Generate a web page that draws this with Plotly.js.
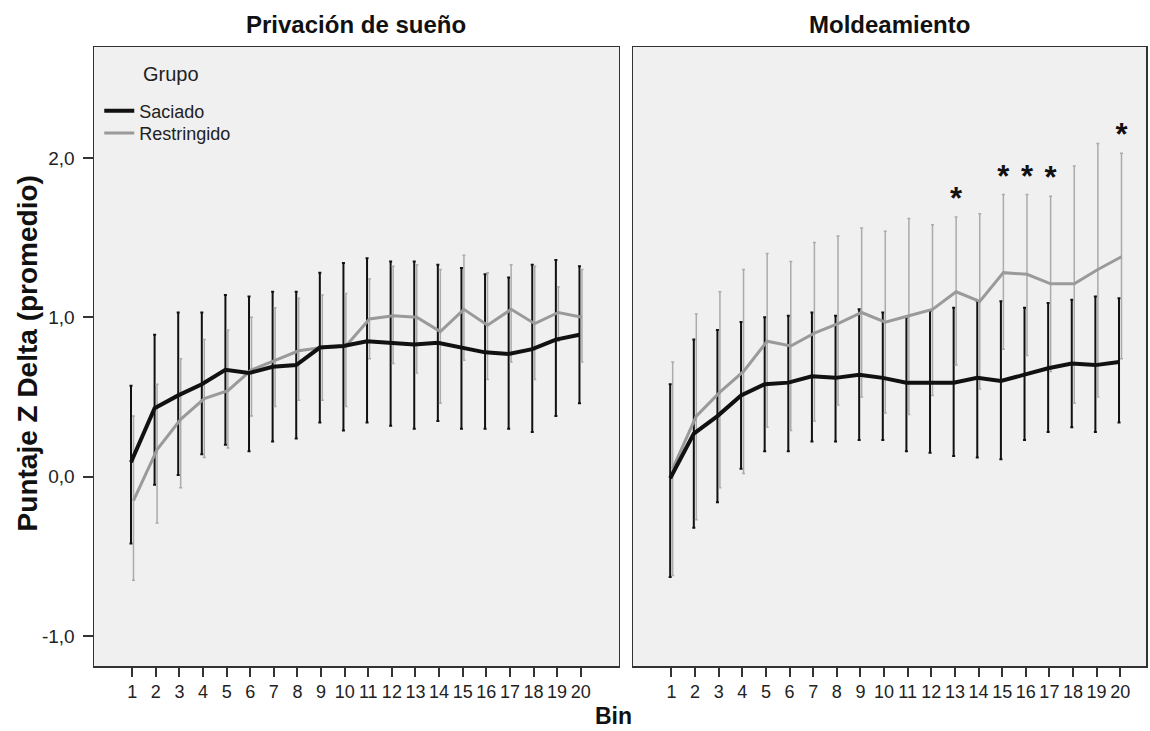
<!DOCTYPE html>
<html>
<head>
<meta charset="utf-8">
<script src="https://cdn.plot.ly/plotly-3.0.1.min.js"></script>
<style>
  html, body { margin: 0; padding: 0; background: #ffffff; }
  #chart { width: 1150px; height: 731px; }
</style>
</head>
<body>
<div id="chart"></div>
<script>
// Bins (x axis) and tick labels
const bins = [1, 2, 3, 4, 5, 6, 7, 8, 9, 10, 11, 12, 13, 14, 15, 16, 17, 18, 19, 20];
const yTickVals = [-1, 0, 1, 2];
const yTickText = ['-1,0', '0,0', '1,0', '2,0'];

// Panel titles and group names
const panelTitles = ['Privación de sueño', 'Moldeamiento'];
const groupNames = ['Saciado', 'Restringido'];

// Privación de sueño — Saciado: mean, upper and lower error-bar ends
const sacMeanL = [0.09, 0.43, 0.51, 0.58, 0.67, 0.65, 0.69, 0.70, 0.81, 0.82, 0.85, 0.84, 0.83, 0.84, 0.81, 0.78, 0.77, 0.80, 0.86, 0.89];
const sacHiL   = [0.57, 0.89, 1.03, 1.03, 1.14, 1.13, 1.16, 1.16, 1.28, 1.34, 1.37, 1.35, 1.35, 1.33, 1.31, 1.27, 1.25, 1.33, 1.36, 1.32];
const sacLoL   = [-0.42, -0.05, 0.01, 0.14, 0.20, 0.16, 0.22, 0.24, 0.34, 0.29, 0.34, 0.32, 0.30, 0.35, 0.30, 0.30, 0.30, 0.28, 0.38, 0.46];

// Privación de sueño — Restringido
const resMeanL = [-0.15, 0.17, 0.36, 0.49, 0.54, 0.67, 0.73, 0.79, 0.81, 0.82, 0.99, 1.01, 1.00, 0.91, 1.05, 0.95, 1.05, 0.96, 1.03, 1.00];
const resHiL   = [0.38, 0.58, 0.74, 0.86, 0.92, 1.00, 1.06, 1.12, 1.14, 1.15, 1.24, 1.32, 1.33, 1.30, 1.39, 1.28, 1.33, 1.32, 1.19, 1.30];
const resLoL   = [-0.65, -0.29, -0.07, 0.12, 0.18, 0.38, 0.44, 0.48, 0.48, 0.44, 0.74, 0.71, 0.65, 0.46, 0.73, 0.61, 0.72, 0.61, 0.85, 0.72];

// Moldeamiento — Saciado
const sacMeanR = [-0.01, 0.27, 0.38, 0.51, 0.58, 0.59, 0.63, 0.62, 0.64, 0.62, 0.59, 0.59, 0.59, 0.62, 0.60, 0.64, 0.68, 0.71, 0.70, 0.72];
const sacHiR   = [0.58, 0.86, 0.92, 0.97, 1.00, 1.01, 1.03, 1.01, 1.05, 1.03, 1.00, 1.04, 1.06, 1.10, 1.10, 1.06, 1.09, 1.11, 1.13, 1.12];
const sacLoR   = [-0.63, -0.32, -0.16, 0.05, 0.16, 0.16, 0.22, 0.22, 0.23, 0.23, 0.16, 0.15, 0.13, 0.12, 0.11, 0.23, 0.28, 0.31, 0.28, 0.34];

// Moldeamiento — Restringido
const resMeanR = [0.05, 0.38, 0.53, 0.66, 0.85, 0.82, 0.90, 0.96, 1.03, 0.97, 1.01, 1.05, 1.16, 1.10, 1.28, 1.27, 1.21, 1.21, 1.30, 1.38];
const resHiR   = [0.72, 1.02, 1.16, 1.30, 1.40, 1.35, 1.47, 1.51, 1.56, 1.54, 1.62, 1.58, 1.63, 1.65, 1.77, 1.77, 1.76, 1.95, 2.09, 2.03];
const resLoR   = [-0.62, -0.27, -0.07, 0.02, 0.31, 0.29, 0.35, 0.45, 0.50, 0.40, 0.39, 0.51, 0.70, 0.55, 0.80, 0.76, 0.66, 0.46, 0.50, 0.74];

// Bins with a significant group difference (Moldeamiento)
const sigBins = [13, 15, 16, 17, 20];

const FONT = 'Liberation Sans, Arial, sans-serif';
const BLACK = '#111111';
const GRAY_LINE = '#9a9a9a';
const GRAY_BAR = '#ababab';

const diff = (a, b) => a.map((v, i) => v - b[i]);

function errTrace(mean, hi, lo, color, thick, group, xa, ya) {
  return {
    type: 'scatter', mode: 'markers', x: bins, y: mean,
    xaxis: xa, yaxis: ya, offsetgroup: group,
    marker: { size: 1, opacity: 0 },
    error_y: {
      type: 'data', symmetric: false,
      array: diff(hi, mean), arrayminus: diff(mean, lo),
      color: color, thickness: thick, width: 1.5
    },
    showlegend: false, hoverinfo: 'skip'
  };
}

function lineTrace(mean, name, color, width, group, xa, ya, legend, legendId) {
  return {
    type: 'scatter', mode: 'lines', x: bins, y: mean,
    xaxis: xa, yaxis: ya, offsetgroup: group,
    name: name, legendgroup: name, legend: legendId,
    line: { color: color, width: width },
    showlegend: legend, hoverinfo: 'skip'
  };
}

// Upper ends of the Restringido error bars at the significant bins
const sigTop = sigBins.map(b => resHiR[bins.indexOf(b)]);

const data = [
  errTrace(sacMeanL, sacHiL, sacLoL, BLACK, 2, 'sac', 'x', 'y'),
  errTrace(resMeanL, resHiL, resLoL, GRAY_BAR, 1.5, 'res', 'x', 'y'),
  lineTrace(resMeanL, groupNames[1], GRAY_LINE, 3, 'res', 'x', 'y', true, 'legend2'),
  lineTrace(sacMeanL, groupNames[0], BLACK, 4, 'sac', 'x', 'y', true, 'legend'),

  errTrace(sacMeanR, sacHiR, sacLoR, BLACK, 2, 'sac', 'x2', 'y2'),
  errTrace(resMeanR, resHiR, resLoR, GRAY_BAR, 1.5, 'res', 'x2', 'y2'),
  lineTrace(resMeanR, groupNames[1], GRAY_LINE, 3, 'res', 'x2', 'y2', false, 'legend2'),
  lineTrace(sacMeanR, groupNames[0], BLACK, 4, 'sac', 'x2', 'y2', false, 'legend'),

  {
    type: 'scatter', mode: 'text', x: sigBins, y: sigTop,
    xaxis: 'x2', yaxis: 'y2', offsetgroup: 'res',
    text: sigBins.map(() => '*'), textposition: 'top center',
    textfont: { family: FONT, size: 31, color: BLACK, weight: 'bold' },
    showlegend: false, hoverinfo: 'skip'
  }
];

const xBase = {
  tickmode: 'array', tickvals: bins, ticktext: bins.map(String),
  ticks: 'outside', ticklen: 9, tickwidth: 2, tickcolor: '#333333',
  tickfont: { family: FONT, size: 18, color: '#222222' },
  showline: true, mirror: true, linecolor: '#333333', linewidth: 1.5,
  showgrid: false, zeroline: false, fixedrange: true
};

const yBase = {
  range: [-1.188, 2.696],
  showline: true, mirror: true, linecolor: '#333333', linewidth: 1.5,
  showgrid: false, zeroline: false, fixedrange: true
};

const legendBase = {
  x: 0.005, xanchor: 'left', yanchor: 'top',
  bgcolor: 'rgba(0,0,0,0)', borderwidth: 0,
  font: { family: FONT, size: 18, color: '#222222' },
  tracegroupgap: 0, itemwidth: 30
};

const layout = {
  width: 1150, height: 731,
  margin: { l: 94, r: 4, t: 47, b: 65, pad: 0 },
  paper_bgcolor: '#ffffff',
  plot_bgcolor: '#f0f0f0',
  scattermode: 'group',
  scattergap: 0.79,
  showlegend: true,
  legend: Object.assign({}, legendBase, { y: 0.9266 }),
  legend2: Object.assign({}, legendBase, { y: 0.8903 }),
  xaxis: Object.assign({}, xBase, { domain: [0, 0.499], range: [-0.62, 21.62], anchor: 'y' }),
  xaxis2: Object.assign({}, xBase, { domain: [0.5124, 1], range: [-0.625, 21.09], anchor: 'y2' }),
  yaxis: Object.assign({}, yBase, {
    anchor: 'x', tickmode: 'array', tickvals: yTickVals, ticktext: yTickText,
    ticks: 'outside', ticklen: 10, tickwidth: 2, tickcolor: '#333333',
    ticklabelstandoff: 4,
    tickfont: { family: FONT, size: 19, color: '#222222' }
  }),
  yaxis2: Object.assign({}, yBase, { anchor: 'x2', matches: 'y', showticklabels: false, ticks: '' }),
  annotations: [
    { text: panelTitles[0], xref: 'paper', yref: 'paper', x: 0.2495, y: 1.037,
      xanchor: 'center', yanchor: 'middle', showarrow: false,
      font: { family: FONT, size: 24, color: '#111111', weight: 'bold' } },
    { text: panelTitles[1], xref: 'paper', yref: 'paper', x: 0.7562, y: 1.037,
      xanchor: 'center', yanchor: 'middle', showarrow: false,
      font: { family: FONT, size: 24, color: '#111111', weight: 'bold' } },
    { text: 'Bin', xref: 'paper', yref: 'paper', x: 0.494, y: -0.081,
      xanchor: 'center', yanchor: 'middle', showarrow: false,
      font: { family: FONT, size: 23, color: '#111111', weight: 'bold' } },
    { text: 'Puntaje Z Delta (promedio)', xref: 'paper', yref: 'paper', x: -0.0637, y: 0.505,
      xanchor: 'center', yanchor: 'middle', textangle: -90, showarrow: false,
      font: { family: FONT, size: 28, color: '#111111', weight: 'bold' } },
    { text: 'Grupo', xref: 'paper', yref: 'paper', x: 0.0447, y: 0.956,
      xanchor: 'left', yanchor: 'middle', showarrow: false,
      font: { family: FONT, size: 20, color: '#222222' } }
  ]
};

Plotly.newPlot('chart', data, layout, { displayModeBar: false, staticPlot: true });
</script>
</body>
</html>
